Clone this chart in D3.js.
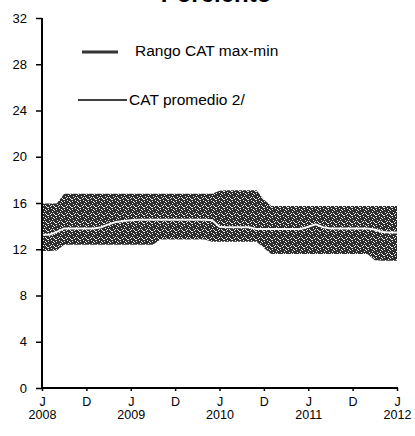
<!DOCTYPE html>
<html><head><meta charset="utf-8">
<script src="https://cdn.jsdelivr.net/npm/d3@7"></script>
<style>body{margin:0;background:#fff}svg{display:block}</style>
</head><body>
<svg id="c" width="415" height="436"></svg>
<script>
// Monthly data, June 2008 .. June 2012
const startMonth = "2008-06";
const catMax = [15.95,15.95,15.95,16.8,16.8,16.8,16.8,16.8,16.8,16.8,16.8,16.8,16.8,16.8,16.8,16.8,16.8,16.8,16.8,16.8,16.8,16.8,16.8,16.8,17.05,17.1,17.1,17.1,17.1,17.1,16.3,15.75,15.75,15.75,15.75,15.75,15.75,15.75,15.75,15.75,15.75,15.75,15.75,15.75,15.75,15.75,15.75,15.75,15.75];
const catMin = [11.85,11.85,11.9,12.4,12.4,12.4,12.4,12.4,12.4,12.4,12.4,12.4,12.4,12.4,12.4,12.4,12.85,12.85,12.85,12.85,12.85,12.85,12.85,12.65,12.65,12.65,12.65,12.65,12.65,12.65,12.1,11.6,11.6,11.6,11.6,11.6,11.6,11.6,11.6,11.6,11.6,11.6,11.6,11.6,11.6,11.05,11.0,11.0,11.0];
const catAvg = [13.25,13.25,13.5,13.8,13.8,13.8,13.8,13.8,13.9,14.15,14.35,14.45,14.5,14.55,14.55,14.55,14.55,14.55,14.55,14.55,14.55,14.55,14.55,14.5,13.95,13.9,13.9,13.9,13.9,13.75,13.75,13.75,13.75,13.75,13.75,13.75,13.95,14.15,13.9,13.8,13.8,13.8,13.8,13.8,13.8,13.7,13.5,13.45,13.45];
const yTicks = [0,4,8,12,16,20,24,28,32];
const xTickMonths = [0,6,12,18,24,30,36,42,48];
const xTickLabels = ["J","D","J","D","J","D","J","D","J"];
const xTickYears = ["2008","","2009","","2010","","2011","","2012"];
const legendLabels = ["Rango CAT max-min","CAT promedio 2/"];
const title = "Porciento";

const svg = d3.select("#c");
const x = d3.scaleLinear().domain([0,48]).range([42,397]);
const y = d3.scaleLinear().domain([0,32]).range([388,18]);
const font = "Liberation Sans, Arial, sans-serif";

// stipple pattern
const specks = [[0,1],[3,0],[6,2],[1,4],[5,5],[2,6],[7,7],[4,3],[0,7],[6,6],[3,5],[5,1]];
const defs = svg.append("defs");
const pat = defs.append("pattern").attr("id","stip").attr("patternUnits","userSpaceOnUse").attr("width",8).attr("height",8);
pat.append("rect").attr("width",8).attr("height",8).attr("fill","#2e2e2e");
pat.selectAll("rect.s").data(specks).join("rect").attr("class","s")
  .attr("x",d=>d[0]).attr("y",d=>d[1]).attr("width",1).attr("height",1).attr("fill","#e8e8e8");

// title (clipped at top, as in the reference)
svg.append("text").attr("x",216).attr("y",2).attr("text-anchor","middle")
  .attr("font-family",font).attr("font-weight","bold").attr("font-size",24).text(title);

// band
const idx = d3.range(catMax.length);
svg.append("path").datum(idx)
  .attr("d", d3.area().x(i=>x(i)).y0(i=>y(catMin[i])).y1(i=>y(catMax[i])))
  .attr("fill","url(#stip)");
// average
svg.append("path").datum(idx)
  .attr("d", d3.line().x(i=>x(i)).y(i=>y(catAvg[i])))
  .attr("fill","none").attr("stroke","#f4f4f4").attr("stroke-width",2);

// y axis
const ya = svg.append("g").attr("transform","translate(42,0)")
  .call(d3.axisLeft(y).tickValues(yTicks).tickSize(6).tickPadding(9).tickFormat(d3.format("d")));
ya.select(".domain").attr("stroke","#000").attr("stroke-width",2).attr("d","M0,18V389");
ya.selectAll(".tick line").attr("stroke","#000").attr("stroke-width",1.5);
ya.selectAll(".tick text").attr("font-family",font).attr("font-size",13).attr("fill","#000");

// x axis
const xa = svg.append("g").attr("transform","translate(0,388)")
  .call(d3.axisBottom(x).tickValues(xTickMonths).tickSize(3).tickFormat((d,i)=>xTickLabels[i]).tickPadding(6));
xa.select(".domain").attr("stroke","#000").attr("stroke-width",2).attr("d","M41,0H398");
xa.selectAll(".tick line").attr("stroke","#000").attr("stroke-width",1.5);
xa.selectAll(".tick text").attr("font-family",font).attr("font-size",12.5).attr("fill","#000")
  .attr("dy",null).attr("y",17.5);
xa.selectAll(".tick").append("text").attr("y",31).attr("text-anchor","middle")
  .attr("font-family",font).attr("font-size",12.5).attr("fill","#000")
  .text((d,i)=>xTickYears[i]);

// legend
svg.append("line").attr("x1",82).attr("x2",118).attr("y1",52).attr("y2",52)
  .attr("stroke","#333").attr("stroke-width",3);
svg.append("text").attr("x",135).attr("y",56).attr("font-family",font).attr("font-size",15.5)
  .attr("fill","#000").text(legendLabels[0]);
svg.append("line").attr("x1",78).attr("x2",127).attr("y1",100).attr("y2",100)
  .attr("stroke","#000").attr("stroke-width",1.5);
svg.append("text").attr("x",129).attr("y",105).attr("font-family",font).attr("font-size",15.5)
  .attr("fill","#000").text(legendLabels[1]);
</script>
</body></html>
